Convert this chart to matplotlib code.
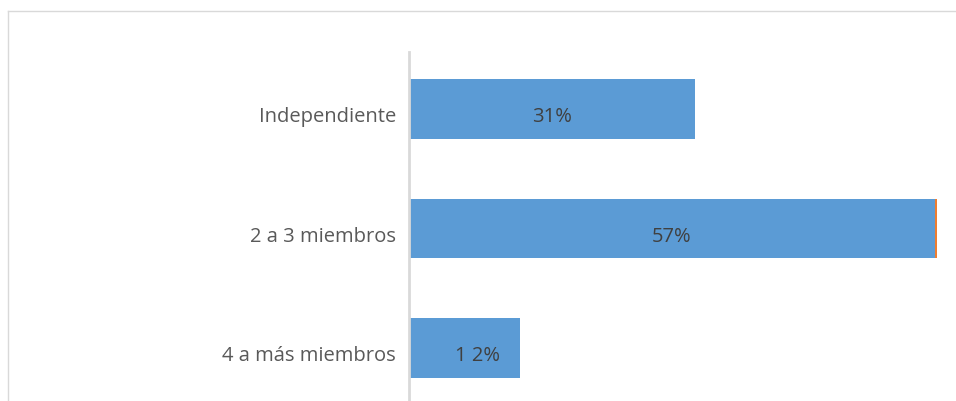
import matplotlib.pyplot as plt
import matplotlib.transforms as mtransforms
from matplotlib.lines import Line2D
import numpy as np

categories = ["Independiente", "2 a 3 miembros", "4 a más miembros"]
main_values = [31, 57, 12]
extra_values = [0, 0.25, 0]
bar_labels = ["31%", "57%", "1 2%"]

plt.rcParams['font.family'] = ['Open Sans', 'DejaVu Sans']

fig = plt.figure(figsize=(9.56, 4.01), dpi=100)
ax = fig.add_axes([409 / 956, -4 / 401, 537 / 956, 353 / 401])

pos = np.arange(len(categories))
ax.barh(pos, main_values, height=0.5, color='#5B9BD5')
ax.barh(pos, extra_values, left=main_values, height=0.5, color='#ED7D31')

# baseline of the text sits ~13px below the bar centre
down = mtransforms.ScaledTranslation(0, -13 / 100, fig.dpi_scale_trans)
left = mtransforms.ScaledTranslation(-13 / 100, -13 / 100, fig.dpi_scale_trans)

for i, (v, lab) in enumerate(zip(main_values, bar_labels)):
    shift = 1.4 if i == 2 else 0
    ax.text(v / 2 + shift, i, lab, ha='center', va='baseline',
            fontsize=14.5, color='#404040', transform=ax.transData + down)

# category labels drawn as text so they share the same baseline rule
for i, cat in enumerate(categories):
    ax.text(0, i, cat, ha='right', va='baseline', fontsize=14.5,
            color='#595959', transform=ax.get_yaxis_transform() + left)

ax.set_xlim(0, 537 / 9.23)
ax.set_ylim(2.48, -0.48)
ax.set_yticks([])
ax.set_xticks([])
for s in ['top', 'right', 'bottom']:
    ax.spines[s].set_visible(False)
ax.spines['left'].set_color('#d9d9d9')
ax.spines['left'].set_linewidth(2)

# outer frame of the chart area
fig.add_artist(Line2D([8 / 956, 8 / 956], [0, 1 - 11 / 401], transform=fig.transFigure,
                      color='#d9d9d9', lw=1))
fig.add_artist(Line2D([8 / 956, 1], [1 - 11 / 401, 1 - 11 / 401], transform=fig.transFigure,
                      color='#d9d9d9', lw=1))

fig.savefig('out.png', dpi=100)
